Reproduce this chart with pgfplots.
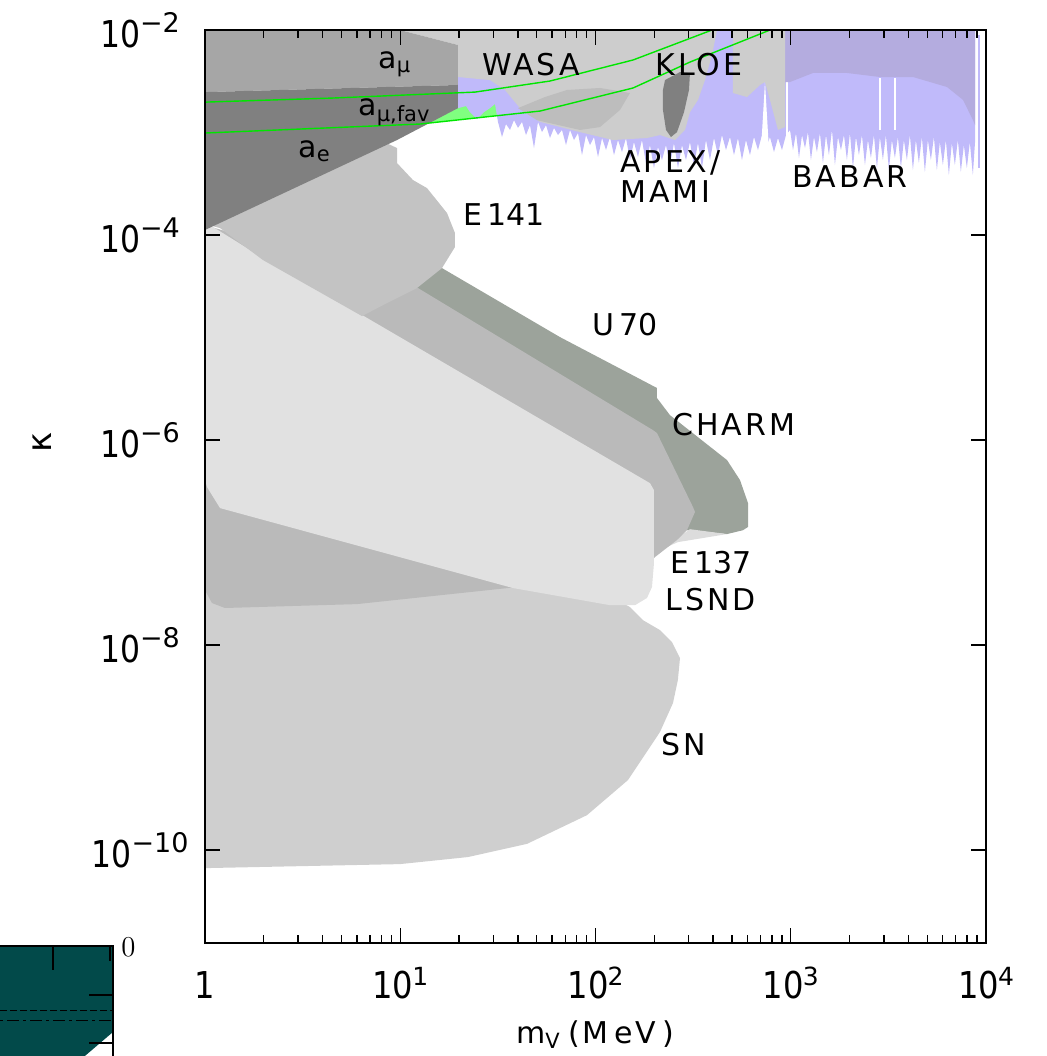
\documentclass[border=0pt]{standalone}
\usepackage{graphicx}
\usepackage{pgfplots}
\pgfplotsset{compat=1.18}
\usepackage{fontspec}
\setmainfont{DejaVu Sans}
\newfontfamily\lblfont[LetterSpace=10]{DejaVu Sans}

\definecolor{amu}{HTML}{A6A6A6}
\definecolor{aecol}{HTML}{808080}
\definecolor{esh}{HTML}{C3C3C3}
\definecolor{lsnd}{HTML}{E1E1E1}
\definecolor{eot}{HTML}{BABABA}
\definecolor{charm}{HTML}{9CA39B}
\definecolor{sncol}{HTML}{CFCFCF}
\definecolor{wasa}{HTML}{CDCDCD}
\definecolor{wasad}{HTML}{BDBDBD}
\definecolor{babar}{HTML}{C0BAFA}
\definecolor{babard}{HTML}{B4ACDF}
\definecolor{fav}{HTML}{80FF80}
\definecolor{favline}{HTML}{00E600}
\definecolor{strip}{HTML}{DCDCDC}
\definecolor{tealpanel}{HTML}{024A4A}

\newcommand{\xpow}[1]{\scalebox{0.87}[1]{10}\kern-0.5pt\raisebox{6.5pt}{\fontsize{12.5}{13}\selectfont #1}}
\newcommand{\ypow}[1]{\scalebox{0.85}[1]{10}\raisebox{7.5pt}{\fontsize{13.5}{14}\selectfont −#1}}

\begin{document}
\begin{tikzpicture}
\useasboundingbox (0pt,0pt) rectangle (523pt,-528pt);

% neighbouring panel, cut at the page edge
\begin{axis}[
  at={(56.5pt,-473pt)}, anchor=north east,
  scale only axis, width=156.5pt, height=105pt,
  xmin=-200, xmax=113, ymin=0, ymax=210,
  axis on top,
  axis line style={line width=1.2pt},
  tick align=inside,
  xtick={53}, extra x ticks={110},
  extra x tick style={major tick length=7.5pt},
  xtick pos=right, ytick pos=right,
  ytick={113,161},
  xticklabels={}, yticklabels={}, extra x tick labels={},
  major tick length=12pt,
  tick style={black, line width=1.2pt},
]
\addplot[fill=tealpanel, draw=none] coordinates {(-200,210) (113,210) (113,124) (38,60) (-200,60)} --cycle;
\addplot[black, line width=0.5pt, dash pattern=on 3.5pt off 1.5pt] coordinates {(-200,146) (113,146)};
\addplot[black, line width=0.5pt, dash pattern=on 6pt off 2pt on 1.5pt off 2pt] coordinates {(-200,136) (113,136)};
\end{axis}

\begin{axis}[
  at={(102.5pt,-471.5pt)}, anchor=south west,
  scale only axis, width=390.5pt, height=456.5pt,
  xmode=log, ymode=log,
  xmin=1, xmax=1e4, ymin=1.24e-11, ymax=1e-2,
  axis on top,
  tick align=inside,
  xtick={1,10,100,1000,10000},
  xticklabels={\scalebox{0.87}[1]{1},\xpow{1},\xpow{2},\xpow{3},\xpow{4}},
  ytick={1e-10,1e-8,1e-6,1e-4,1e-2},
  yticklabels={\ypow{10},\ypow{8},\ypow{6},\ypow{4},\ypow{2}},
  yminorticks=false,
  major tick length=7.5pt, minor tick length=4pt,
  axis line style={line width=1pt},
  tick style={black, line width=0.7pt},
  ticklabel style={font=\fontsize{18.5}{20}\selectfont},
  xticklabel style={anchor=base, yshift=-27.5pt},
  yticklabel style={anchor=base, xshift=-32.5pt, yshift=-8.5pt},
]
% favoured a_mu band
\addplot[fill=fav, draw=none] coordinates {(1,1.98e-3) (4.525,2.17e-3) (24.14,2.48e-3) (58.48,3.18e-3) (155.7,5.10e-3) (395.1,1e-2) (782.9,1e-2) (304.8,4.87e-3) (155.7,2.72e-3) (51.96,1.62e-3) (12.62,1.21e-3) (1,9.89e-4)} --cycle;
% SN
\addplot[fill=sncol, draw=none] coordinates {(1,6.75e-8) (65.8,6.75e-8) (128.9,2.75e-8) (150.2,2.35e-8) (175.1,1.75e-8) (214,1.40e-8) (246.5,1.07e-8) (270.9,7.46e-9) (264.2,4.56e-9) (249.4,2.72e-9) (214,1.42e-9) (146.7,4.82e-10) (90.4,2.19e-10) (44.6,1.15e-10) (22.2,8.55e-11) (9.97,7.30e-11) (1,6.67e-11)} --cycle;
% CHARM / U70
\addplot[fill=charm, draw=none] coordinates {(11.22,3.64e-5) (14.21,5.45e-5) (16.36,4.76e-5) (65.8,1.01e-5) (206.5,3.22e-6) (206.5,2.57e-6) (240.7,1.75e-6) (471.6,6.38e-7) (549.7,4.07e-7) (604.1,2.43e-7) (604.1,1.42e-7) (569.3,1.32e-7) (471.6,1.21e-7) (419.1,1.24e-7) (294.2,1.32e-7) (270.9,2.60e-7) (169.0,1e-6) (12.33,2.32e-5)} --cycle;
\addplot[fill=strip, draw=none] coordinates {(214,8.45e-8) (304.8,1.35e-7) (471.6,1.21e-7) (264.2,1.01e-7)} --cycle;
% E137
\addplot[fill=eot, draw=none] coordinates {(1,1.25e-4) (12.33,3.04e-5) (197.0,1.25e-6) (206.5,1.17e-6) (315.8,2.22e-7) (323.3,1.99e-7) (294.2,1.32e-7) (261.5,1.06e-7) (201.7,7.22e-8) (133.5,3.44e-8) (39.6,3.68e-8) (6.00,2.51e-8) (1.266,2.30e-8) (1.086,2.57e-8) (1,3.44e-8)} --cycle;
% LSND
\addplot[fill=lsnd, draw=none] coordinates {(1,1.34e-4) (1.982,5.97e-5) (6.37,1.66e-5) (190.1,3.80e-7) (199.3,3.25e-7) (199.3,6.31e-8) (194.7,3.68e-8) (183.5,2.88e-8) (159.4,2.45e-8) (118.7,2.45e-8) (37.8,3.60e-8) (1.194,2.17e-7) (1.024,3.48e-7) (1,4.07e-7)} --cycle;
% E141
\addplot[fill=esh, draw=none] coordinates {(1,2.20e-4) (1,1.28e-4) (1.194,1.17e-4) (1.982,5.70e-5) (6.37,1.62e-5) (8.55,2.17e-5) (12.18,3.04e-5) (16.36,4.76e-5) (19.07,7.64e-5) (19.07,1.046e-4) (17.36,1.64e-4) (13.71,2.87e-4) (11.62,3.44e-4) (9.625,5.04e-4) (9.625,7.06e-4) (7.875,8.45e-4) (3.066,4.31e-4)} --cycle;
% APEX / MAMI / BABAR
\addplot[fill=babar, draw=none] coordinates {(19.76,1.73e-3) (21.72,1.81e-3) (22.76,1.58e-3) (24.72,1.35e-3) (26.85,1.58e-3) (28.82,1.73e-3) (30.57,1.90e-3)
 (31.67,1.27e-3) (33.20,9.04e-4) (34.80,1.21e-3) (36.48,1.06e-3) (38.25,1.32e-3) (40.09,1.11e-3) (42.03,1.27e-3) (44.06,9.45e-4) (46.19,1.18e-3) (48.42,7.06e-4) (50.76,1.27e-3) (53.21,1.01e-3) (55.78,1.18e-3) (58.47,8.84e-4) (61.30,1.11e-3) (64.26,9.45e-4) (67.36,1.06e-3) (70.62,7.55e-4) (74.03,1.06e-3) (77.60,8.45e-4) (81.35,9.89e-4) (85.28,6.03e-4) (89.40,9.45e-4) (93.72,7.55e-4) (98.24,9.04e-4) (103.0,5.77e-4) (108.0,8.84e-4) (113.2,6.75e-4) (118.6,9.04e-4) (124.4,6.03e-4) (130.4,8.45e-4) (136.7,6.45e-4) (143.3,8.84e-4) (150.2,5.39e-4) (157.4,8.08e-4) (165.0,5.77e-4) (173.0,8.45e-4) (181.4,5.04e-4) (190.1,7.55e-4) (199.3,4.50e-4) (208.9,7.22e-4) (219.0,5.39e-4) (229.6,7.55e-4) (240.7,4.82e-4) (252.3,7.90e-4) (264.5,4.50e-4) (277.3,7.55e-4) (290.7,5.39e-4) (304.7,8.08e-4) (319.4,4.82e-4) (334.9,7.90e-4) (351.0,4.50e-4) (368.0,8.45e-4) (385.8,5.39e-4) (404.4,8.84e-4) (423.9,6.03e-4) (444.4,9.45e-4) (465.9,6.75e-4) (488.4,9.04e-4) (512.0,6.03e-4) (536.7,8.84e-4) (562.6,5.39e-4) (589.8,8.45e-4) (618.3,6.03e-4) (648.2,9.04e-4) (679.5,6.75e-4) (712.3,9.45e-4) (746.7,7.06e-4) (782.8,9.04e-4) (820.6,6.45e-4) (860.3,8.84e-4) (901.8,6.75e-4) (945.4,9.45e-4)
 (991.3,1.06e-3) (1027,6.75e-4) (1064,9.89e-4) (1102,5.64e-4) (1142,9.45e-4) (1183,7.06e-4) (1225,1.01e-3) (1269,5.39e-4) (1315,9.04e-4) (1362,6.45e-4) (1411,9.89e-4) (1462,5.04e-4) (1515,9.45e-4) (1569,6.03e-4) (1626,1.06e-3) (1684,4.82e-4) (1745,9.04e-4) (1808,6.75e-4) (1873,9.45e-4) (1940,5.39e-4) (2010,9.89e-4) (2082,4.50e-4) (2157,9.04e-4) (2235,6.03e-4) (2315,9.45e-4) (2399,4.82e-4) (2485,8.45e-4) (2574,5.64e-4) (2667,9.45e-4) (2763,4.50e-4) (2862,9.04e-4) (2965,5.39e-4) (3072,9.45e-4) (3183,4.31e-4) (3297,8.45e-4) (3416,5.64e-4) (3539,9.04e-4) (3666,4.50e-4) (3798,8.45e-4) (3935,5.39e-4) (4076,9.45e-4) (4223,4.31e-4) (4375,8.45e-4) (4532,5.04e-4) (4695,9.04e-4) (4864,4.12e-4) (5039,8.45e-4) (5221,5.39e-4) (5409,9.04e-4) (5603,4.31e-4) (5805,8.08e-4) (6014,4.82e-4) (6230,8.45e-4) (6455,3.85e-4) (6687,7.90e-4) (6928,4.82e-4) (7177,8.45e-4) (7435,4.12e-4) (7703,7.55e-4) (7980,4.50e-4) (8267,8.08e-4) (8565,3.85e-4) (8787,8.08e-4)
 (8787,1e-2) (19.76,1e-2)} --cycle;
\addplot[fill=white, draw=none] coordinates {(704.1,6.75e-4) (738.1,3.11e-3) (773.8,6.75e-4)} --cycle;
\addplot[fill=white, draw=none] coordinates {(945.7,3.56e-3) (968.1,3.56e-3) (968.1,6.03e-4) (945.7,6.03e-4)} --cycle;
\addplot[fill=white, draw=none] coordinates {(2831,3.40e-3) (2916,3.40e-3) (2916,1.06e-3) (2831,1.06e-3)} --cycle;
\addplot[fill=white, draw=none] coordinates {(3380,3.40e-3) (3480,3.40e-3) (3480,1.06e-3) (3380,1.06e-3)} --cycle;
\addplot[fill=babar, draw=none] coordinates {(9049,8.94e-3) (9318,8.94e-3) (9318,4.50e-4) (9049,4.50e-4)} --cycle;
\addplot[fill=babard, draw=none] coordinates {(934.6,1e-2) (8787,1e-2) (8787,1.18e-3) (8581,1.32e-3) (7627,2.08e-3) (6315,2.78e-3) (4228,3.48e-3) (2865,3.48e-3) (1941,3.81e-3) (1300,3.81e-3) (991.3,3.11e-3) (934.6,3.11e-3)} --cycle;
% WASA / KLOE
\addplot[fill=wasa, draw=none] coordinates {(9.97,1e-2) (419.1,1e-2) (395.1,5.70e-3) (363.8,3.25e-3) (335.0,2.08e-3) (304.8,1.58e-3) (287.4,1.06e-3) (255.4,8.45e-4) (214.0,9.45e-4) (183.5,8.84e-4) (122.9,8.45e-4) (83.26,1.01e-3) (51.96,1.27e-3) (41.04,1.73e-3) (34.39,2.60e-3) (28.82,3.25e-3) (19.76,3.48e-3) (19.76,7.14e-3)} --cycle;
\addplot[fill=wasa, draw=none] coordinates {(506.0,1e-2) (934.6,1e-2) (934.6,1.13e-3) (860.4,1.06e-3) (782.9,2.08e-3) (738.1,3.11e-3) (695.9,2.91e-3) (597.0,2.22e-3) (506.0,2.43e-3)} --cycle;
\addplot[fill=wasad, draw=none] coordinates {(40.10,1.73e-3) (55.13,2.22e-3) (71.45,2.60e-3) (105.4,2.72e-3) (150.2,2.43e-3) (133.5,1.66e-3) (105.4,1.13e-3) (83.26,1.06e-3) (50.16,1.32e-3)} --cycle;
\addplot[fill=aecol, draw=none] coordinates {(227.0,3.25e-3) (270.9,3.89e-3) (304.8,3.81e-3) (301.2,2.60e-3) (284.0,1.58e-3) (261.5,1.01e-3) (243.5,9.04e-4) (229.7,1.06e-3) (221.6,1.66e-3) (221.6,2.60e-3)} --cycle;
% a_mu and a_e
\addplot[fill=amu, draw=none] coordinates {(1,1e-2) (9.97,1e-2) (19.76,7.14e-3) (19.76,2.91e-3) (1,2.48e-3)} --cycle;
\addplot[fill=aecol, draw=none] coordinates {(1,2.48e-3) (19.76,2.91e-3) (19.76,1.73e-3) (9.625,8.45e-4) (1,1.12e-4)} --cycle;
% boundaries of the favoured band
\addplot[favline, line width=0.7pt] coordinates {(1,1.98e-3) (4.525,2.17e-3) (24.14,2.48e-3) (58.48,3.18e-3) (155.7,5.10e-3) (395.1,1e-2) (782.9,1e-2)};
\addplot[favline, line width=0.7pt] coordinates {(1,9.89e-4) (12.62,1.21e-3) (51.96,1.62e-3) (155.7,2.72e-3) (304.8,4.87e-3) (782.9,1e-2)};
\end{axis}

\begin{scope}[x=0.5pt, y=-0.5pt, font=\fontsize{15}{18}\selectfont]
\node[anchor=base west, inner sep=0pt] at (378,68) {a\textsubscript{μ}};
\node[anchor=base west, inner sep=0pt] at (358,115) {a\textsubscript{μ,fav}};
\node[anchor=base west, inner sep=0pt] at (298,157) {a\textsubscript{e}};
\node[anchor=base west, inner sep=0pt] at (482,75) {\lblfont WASA};
\node[anchor=base west, inner sep=0pt] at (655,75) {\lblfont KLOE};
\node[anchor=base west, inner sep=0pt] at (620,172) {\lblfont APEX/};
\node[anchor=base west, inner sep=0pt] at (620,202) {\lblfont MAMI};
\node[anchor=base west, inner sep=0pt] at (792,187) {\lblfont BABAR};
\node[anchor=base west, inner sep=0pt] at (463,225) {E\hspace{2.5pt}141};
\node[anchor=base west, inner sep=0pt] at (592,335) {U\hspace{2.5pt}70};
\node[anchor=base west, inner sep=0pt] at (672,435) {\lblfont CHARM};
\node[anchor=base west, inner sep=0pt] at (670,573) {E\hspace{2.5pt}137};
\node[anchor=base west, inner sep=0pt] at (665,610) {\lblfont LSND};
\node[anchor=base west, inner sep=0pt] at (661,755) {\lblfont SN};
\node[anchor=base, inner sep=0pt] at (595,1043) {\lblfont m\textsubscript{V}\hspace{4pt}(\hspace{1pt}M\hspace{3pt}eV\hspace{3pt})};
\node[rotate=90, inner sep=0pt, font=\fontsize{17}{17}\selectfont] at (42,442) {κ};
\node[inner sep=0pt, font=\fontsize{15}{15}\selectfont] at (128.5,947) {$0$};
\end{scope}
\end{tikzpicture}
\end{document}
